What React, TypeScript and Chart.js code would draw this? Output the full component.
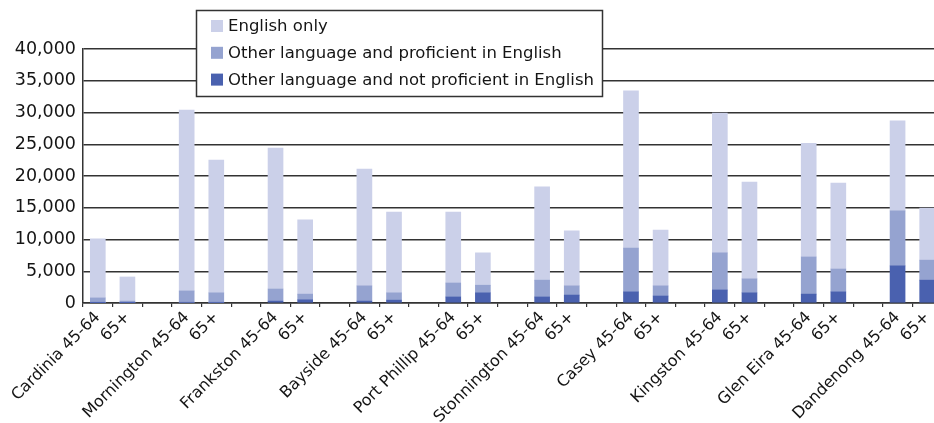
import React, { useEffect, useRef } from "react";
import { Chart, registerables } from "chart.js";

Chart.register(...registerables);

const categories = [
  "Cardinia 45-64", "65+", "",
  "Mornington 45-64", "65+", "",
  "Frankston 45-64", "65+", "",
  "Bayside 45-64", "65+", "",
  "Port Phillip 45-64", "65+", "",
  "Stonnington 45-64", "65+", "",
  "Casey 45-64", "65+", "",
  "Kingston 45-64", "65+", "",
  "Glen Eira 45-64", "65+", "",
  "Dandenong 45-64", "65+",
];

const englishOnly = [
  9300, 3800, null, 28500, 20900, null, 22200, 11700, null, 18400, 12700, null,
  11150, 5100, null, 14700, 8650, null, 24750, 8800, null, 22000, 15250, null,
  17900, 13550, null, 14200, 8200,
];
const otherProficient = [
  750, 280, null, 1800, 1520, null, 1900, 900, null, 2400, 1150, null,
  2200, 1200, null, 2650, 1450, null, 6900, 1600, null, 5850, 2200, null,
  5850, 3600, null, 8650, 3150,
];
const otherNotProficient = [
  50, 20, null, 100, 80, null, 300, 500, null, 300, 450, null,
  950, 1600, null, 950, 1250, null, 1750, 1100, null, 2050, 1600, null,
  1400, 1750, null, 5850, 3600,
];

const seriesLabels = [
  "English only",
  "Other language and proficient in English",
  "Other language and not proficient in English",
];
const seriesColors = ["#CBD0E9", "#95A3D0", "#4A61AF"];

const yTicks = [0, 5000, 10000, 15000, 20000, 25000, 30000, 35000, 40000];

const FONT = '"DejaVu Sans", Verdana, sans-serif';
const TEXT = "#151515";
const LINE = "#333333";

const boxLegend = {
  id: "boxLegend",
  afterDraw(chart: any) {
    const ctx = chart.ctx;
    const x = 196.5, y = 10.5, w = 406, h = 86;
    ctx.save();
    ctx.fillStyle = "#ffffff";
    ctx.fillRect(x, y, w, h);
    ctx.strokeStyle = "#333333";
    ctx.lineWidth = 1.5;
    ctx.strokeRect(x, y, w, h);
    ctx.font = `16.5px ${FONT}`;
    ctx.textBaseline = "middle";
    ctx.textAlign = "left";
    seriesLabels.forEach((label, i) => {
      const cy = 26 + i * 26.8;
      ctx.fillStyle = seriesColors[i];
      ctx.fillRect(211, cy - 6, 12, 12);
      ctx.fillStyle = TEXT;
      ctx.fillText(label, 228, cy + 1);
    });
    ctx.restore();
  },
};

export default function App() {
  const ref = useRef<HTMLCanvasElement | null>(null);

  useEffect(() => {
    if (!ref.current) return;
    const chart = new Chart(ref.current, {
      type: "bar",
      data: {
        labels: categories,
        datasets: [
          {
            label: seriesLabels[2],
            data: otherNotProficient,
            backgroundColor: seriesColors[2],
            barThickness: 15,
          },
          {
            label: seriesLabels[1],
            data: otherProficient,
            backgroundColor: seriesColors[1],
            barThickness: 15,
          },
          {
            label: seriesLabels[0],
            data: englishOnly,
            backgroundColor: seriesColors[0],
            barThickness: 15,
          },
        ],
      },
      options: {
        responsive: false,
        animation: false,
        layout: { padding: { top: 49, right: 8, left: 0, bottom: 0 } },
        plugins: {
          legend: { display: false },
          tooltip: { enabled: false },
        },
        scales: {
          x: {
            stacked: true,
            offset: true,
            grid: {
              display: true,
              drawOnChartArea: false,
              drawTicks: true,
              tickLength: 4,
              color: LINE,
              lineWidth: 1.2,
              offset: true,
            },
            border: { display: true, color: LINE, width: 1.5 },
            ticks: {
              autoSkip: false,
              minRotation: 45,
              maxRotation: 45,
              padding: 1,
              color: TEXT,
              font: { family: FONT, size: 16 },
            },
            afterFit: (scale: any) => {
              scale.height = 120;
            },
          },
          y: {
            stacked: true,
            min: 0,
            max: 40000,
            afterBuildTicks: (scale: any) => {
              scale.ticks = yTicks.map((v) => ({ value: v }));
            },
            grid: {
              color: LINE,
              lineWidth: 1.5,
              drawTicks: false,
            },
            border: { display: true, color: LINE, width: 1.5 },
            ticks: {
              padding: 7,
              color: TEXT,
              font: { family: FONT, size: 17.5 },
              callback: (v: any) => Number(v).toLocaleString("en-US"),
            },
            afterFit: (scale: any) => {
              scale.width = 83;
            },
          },
        },
      },
      plugins: [boxLegend],
    });
    return () => chart.destroy();
  }, []);

  return (
    <div
      style={{
        position: "fixed",
        left: 0,
        top: 0,
        width: 934,
        height: 423,
        overflow: "hidden",
        background: "#ffffff",
      }}
    >
      <canvas ref={ref} width={950} height={423} style={{ display: "block" }} />
    </div>
  );
}
